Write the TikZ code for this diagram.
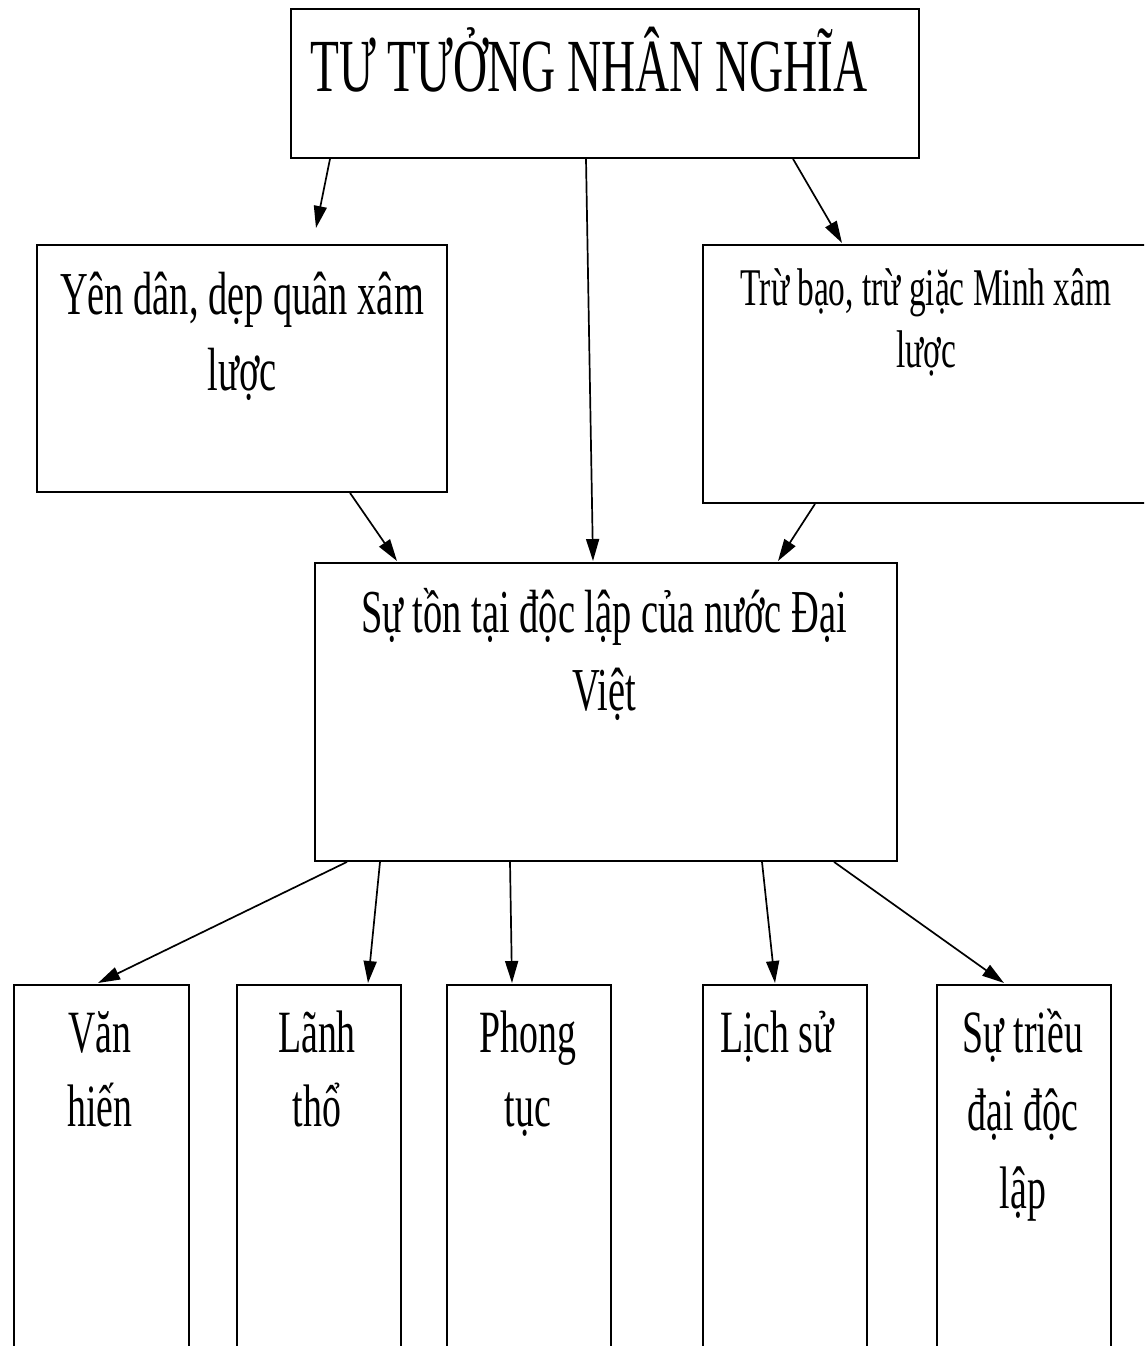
\documentclass[tikz,border=0pt]{standalone}
\usepackage{fontspec}
\setmainfont[FakeStretch=0.63]{Liberation Serif}
\usetikzlibrary{arrows.meta, calc}

\begin{document}
\begin{tikzpicture}[
  x=1pt, y=-1pt,
  box/.style={draw, line width=1.9pt, inner sep=0pt, anchor=north west},
  txt/.style={align=center, inner sep=0pt, anchor=base},
  edge/.style={-{Triangle[length=22pt, width=13pt]}, line width=1.7pt}
]
\useasboundingbox (0,0) rectangle (1144,1346);
\clip (0,0) rectangle (1144,1346);

\node[box, minimum width=628pt, minimum height=149pt] (title) at (290,8) {};
\node[box, minimum width=410pt, minimum height=247pt] (yen) at (36,244) {};
\node[box, minimum width=460pt, minimum height=258pt] (tru) at (702,244) {};
\node[box, minimum width=582pt, minimum height=298pt] (ton) at (314,562) {};
\node[box, minimum width=175pt, minimum height=400pt] (van) at (13,984) {};
\node[box, minimum width=164pt, minimum height=400pt] (lanh) at (236,984) {};
\node[box, minimum width=164pt, minimum height=400pt] (phong) at (446,984) {};
\node[box, minimum width=164pt, minimum height=400pt] (lich) at (702,984) {};
\node[box, minimum width=174pt, minimum height=400pt] (trieu) at (936,984) {};

% base anchor sits on the last line
\node[txt, font=\fontsize{75}{90}\selectfont] (title-t) at ($(title.north west)+(299,84)$) {TƯ TƯỞNG NHÂN NGHĨA};
\node[txt, font=\fontsize{61}{76}\selectfont] (yen-t) at ($(yen.north west)+(206,146)$) {Yên dân, dẹp quân xâm\\lược};
\node[txt, font=\fontsize{53}{62}\selectfont] (tru-t) at ($(tru.north west)+(224,123)$) {Trừ bạo, trừ giặc Minh xâm\\lược};
\node[txt, font=\fontsize{61}{78}\selectfont] (ton-t) at ($(ton.north west)+(290,148)$) {Sự tồn tại độc lập của nước Đại\\Việt};
\node[txt, font=\fontsize{60}{74}\selectfont] (van-t) at ($(van.north west)+(87,142)$) {Văn\\hiến};
\node[txt, font=\fontsize{60}{74}\selectfont] (lanh-t) at ($(lanh.north west)+(81,142)$) {Lãnh\\thổ};
\node[txt, font=\fontsize{60}{74}\selectfont] (phong-t) at ($(phong.north west)+(82,142)$) {Phong\\tục};
\node[txt, font=\fontsize{60}{74}\selectfont] (lich-t) at ($(lich.north west)+(75,68)$) {Lịch sử};
\node[txt, font=\fontsize{60}{78}\selectfont] (trieu-t) at ($(trieu.north west)+(87,224)$) {Sự triều\\đại độc\\lập};

\draw[edge] ($(title.south west)+(40,0)$) -- ($(yen.north west)+(280,-16)$);
\draw[edge] ($(title.south west)+(296,0)$) -- ($(ton.north west)+(279,-1)$);
\draw[edge] ($(title.south west)+(503,0)$) -- ($(tru.north west)+(140,-1)$);
\draw[edge] ($(yen.south west)+(314,0)$) -- ($(ton.north west)+(83,-1)$);
\draw[edge] ($(tru.south west)+(113,0)$) -- ($(ton.north west)+(464,-1)$);

\draw[edge] ($(ton.south west)+(33,0)$) -- ($(van.north west)+(85,-1)$);
\draw[edge] ($(ton.south west)+(66,0)$) -- ($(lanh.north west)+(132,-1)$);
\draw[edge] ($(ton.south west)+(196,0)$) -- ($(phong.north west)+(66,-1)$);
\draw[edge] ($(ton.south west)+(448,0)$) -- ($(lich.north west)+(73,-1)$);
\draw[edge] ($(ton.south west)+(520,0)$) -- ($(trieu.north west)+(68,-1)$);
\end{tikzpicture}
\end{document}
